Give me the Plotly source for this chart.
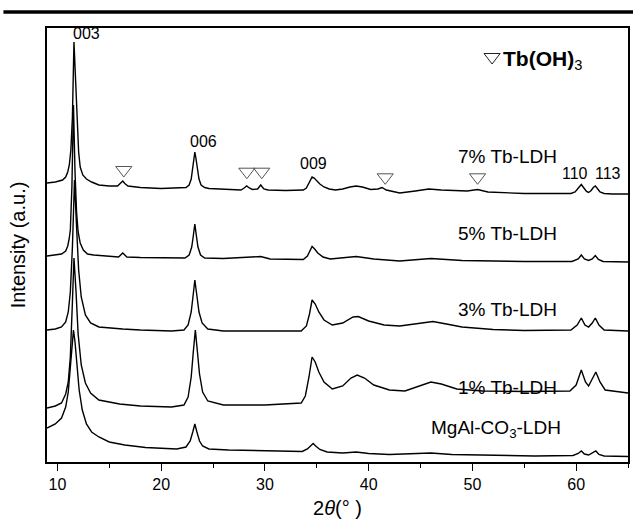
import plotly.graph_objects as go

# ---- data (2theta in degrees, intensity in a.u., already vertically offset) ----
x_7 = [9.0, 9.8, 10.5, 10.8, 11.0, 11.15, 11.3, 11.45, 11.6, 11.75, 11.9, 12.05, 12.2, 12.45, 12.8, 13.3, 14.0,
       15.0, 15.8, 16.1, 16.3, 16.5, 16.8, 18, 20, 22.4, 22.7, 22.9, 23.05, 23.15, 23.25, 23.35, 23.5, 23.65,
       23.85, 24.2, 24.6, 26, 27.7, 28.0, 28.25, 28.5, 28.8, 29.3, 29.6, 29.9, 30.3, 32, 33.7, 34.0, 34.2,
       34.4, 34.55, 34.75, 35.0, 35.3, 35.7, 36.2, 36.8, 37.5, 38.2, 38.8, 39.4, 40.2, 40.9, 41.3, 41.7,
       43.0, 44.5, 45.8, 47.0, 49.5, 50.5, 51.5, 55, 59.5, 59.9, 60.2, 60.5, 60.75, 61.0, 61.2, 61.45, 61.65,
       61.85, 62.05, 62.3, 62.7, 63.5, 65]
y_7 = [279, 280, 282, 285, 290, 297, 312, 345, 420, 385, 342, 310, 295, 287, 283, 280, 277,
       276, 276, 278.5, 281, 278.5, 276, 274.5, 273.5, 274.5, 277, 283, 293, 303, 310, 304, 293, 283,
       277, 274.5, 273.5, 272.5, 272, 274, 276, 274, 272.5, 273, 277, 273, 272, 271.5, 272, 274, 278,
       283.5, 285, 284, 281, 278, 275, 273, 272, 273, 275, 276, 275, 272.5, 273, 274.5, 272,
       269, 271, 273, 272, 271, 272.5, 270, 268.5, 268.5, 270, 273.5, 277.5, 274, 270.5, 269.5, 271.5, 274.5,
       276, 273.5, 270, 268.5, 268, 268]

x_5 = [9.0, 9.8, 10.4, 10.8, 11.0, 11.15, 11.25, 11.4, 11.55, 11.7, 11.85, 12.0, 12.2, 12.5, 12.9, 13.5, 15.0,
       15.9, 16.3, 16.7, 18, 20, 22.3, 22.7, 22.95, 23.1, 23.25, 23.4, 23.55, 23.8, 24.2, 26, 28.2, 29.6,
       30.5, 33.7, 34.1, 34.35, 34.55, 34.8, 35.1, 35.6, 36.3, 38.8, 40.5, 43, 46, 49, 55, 59.6, 60.2,
       60.5, 60.8, 61.2, 61.55, 61.85, 62.15, 62.6, 65]
y_5 = [206, 207, 208, 211, 216, 224, 232, 275, 357, 290, 250, 230, 219, 212, 208, 207, 205.5,
       205, 209, 205, 204.5, 204, 204, 207, 215, 226, 238, 226, 215, 207, 204, 203.5, 205, 205.5,
       203, 202.5, 206, 211, 215.5, 213, 209, 205, 203, 205.5, 203, 201, 203.5, 201.5, 200.5, 200.5, 203,
       207, 203, 201.5, 203, 206.5, 202.5, 200.5, 200]

x_3 = [9.0, 9.8, 10.4, 10.8, 11.05, 11.25, 11.45, 11.65, 11.85, 12.05, 12.3, 12.7, 13.2, 14, 16.3, 18, 21, 22.2,
       22.6, 22.9, 23.1, 23.25, 23.45, 23.65, 23.95, 24.5, 26, 30, 33.5, 34.0, 34.3, 34.55, 34.85, 35.2,
       35.7, 36.5, 37.5, 38.5, 39.0, 40, 41.5, 43, 45, 46.2, 47.5, 49, 52, 55, 59.5, 60.1, 60.5, 60.85,
       61.2, 61.55, 61.85, 62.2, 62.7, 65]
y_3 = [132, 133, 135, 140, 150, 170, 215, 282, 235, 192, 165, 147, 139, 135, 133, 132, 131, 132,
       137, 150, 168, 182, 166, 150, 139, 133, 131, 131, 131, 136, 148, 162, 158, 150,
       142, 137, 139, 145, 145.5, 141, 137, 136, 139, 140.5, 138, 135, 132.5, 131.5, 132, 137, 144, 137,
       135, 139, 144, 137, 132, 131]

x_1 = [9.0, 9.8, 10.4, 10.8, 11.05, 11.25, 11.45, 11.6, 11.8, 12.0, 12.3, 12.7, 13.2, 14, 16, 18, 21, 22.2,
       22.6, 22.9, 23.1, 23.3, 23.5, 23.7, 24.0, 24.5, 26, 30, 33.5, 33.9, 34.25, 34.55, 34.85, 35.2, 35.7,
       36.5, 37.5, 38.3, 38.9, 39.6, 40.5, 42, 43.5, 45, 46, 47, 48.5, 51, 55, 59.4, 60.0, 60.5, 60.9,
       61.2, 61.5, 61.9, 62.3, 62.8, 65]
y_1 = [54, 56, 59, 68, 80, 105, 160, 204, 170, 128, 97, 79, 69, 62, 58, 56, 55, 57,
       65, 85, 110, 132, 110, 88, 70, 61, 57, 57, 59, 66, 85, 105, 100, 90, 80,
       73, 76, 84, 87, 84, 77, 72, 71, 76, 80, 78, 73, 71, 70.5, 71, 77, 92, 80,
       76, 82, 90, 80, 72, 69]

x_m = [9.0, 9.8, 10.4, 10.8, 11.05, 11.25, 11.4, 11.55, 11.7, 11.9, 12.1, 12.4, 12.8, 13.3, 14, 15, 16.5, 18.5,
       20, 21.5, 22.4, 22.8, 23.05, 23.25, 23.45, 23.7, 24.0, 24.6, 26.5, 30, 33.6, 34.1, 34.45, 34.65,
       34.9, 35.3, 36, 37.5, 38.8, 40, 42, 44, 46, 48, 52, 56, 59.7, 60.2, 60.5, 60.8, 61.2, 61.6, 61.9,
       62.2, 62.7, 65]
y_m = [34, 38, 44, 55, 70, 95, 120, 132, 120, 95, 72, 52, 38, 30, 25, 20, 17, 14.5,
       13.5, 13, 15, 21, 30, 38, 30, 21, 16, 13, 12, 11, 10.5, 13, 17, 18.5,
       16, 12.5, 10, 9, 10, 8.5, 7.5, 8, 9, 7.5, 6.5, 6, 6.5, 8.5, 11, 8, 7, 9, 11,
       7.5, 6, 5.5]

series_names = ["7% Tb-LDH", "5% Tb-LDH", "3% Tb-LDH", "1% Tb-LDH", "MgAl-CO<sub>3</sub>-LDH"]
label_x = [53.4, 53.4, 53.4, 53.4, 52.3]
label_y = [306, 229, 153, 75, 33]

peak_labels = ["003", "006", "009", "110", "113"]
peak_lab_x = [12.8, 24.1, 34.65, 59.9, 63.1]
peak_lab_y = [429, 321, 299, 289, 289]

tri_x = [16.4, 28.26, 29.7, 41.6, 50.5]
tri_y = [292, 290.3, 290.3, 284.7, 284.7]

FONT = "Liberation Sans, Arial, sans-serif"

fig = go.Figure()
for xs, ys in [(x_7, y_7), (x_5, y_5), (x_3, y_3), (x_1, y_1), (x_m, y_m)]:
    fig.add_trace(go.Scatter(x=xs, y=ys, mode="lines", line=dict(color="black", width=1.4),
                             showlegend=False, hoverinfo="skip"))

fig.add_trace(go.Scatter(x=tri_x, y=tri_y, mode="markers",
                         marker=dict(symbol="triangle-down-open", size=14, color="#555555",
                                     line=dict(width=1)),
                         showlegend=False, hoverinfo="skip"))
# legend marker
fig.add_trace(go.Scatter(x=[51.9], y=[405], mode="markers",
                         marker=dict(symbol="triangle-down-open", size=14, color="#222222",
                                     line=dict(width=1)),
                         showlegend=False, hoverinfo="skip"))

annotations = []
for t, xx, yy in zip(series_names, label_x, label_y):
    annotations.append(dict(x=xx, y=yy, text=t, showarrow=False, xanchor="center", yanchor="middle",
                            font=dict(family=FONT, size=19, color="black")))
for t, xx, yy in zip(peak_labels, peak_lab_x, peak_lab_y):
    annotations.append(dict(x=xx, y=yy, text=t, showarrow=False, xanchor="center", yanchor="middle",
                            font=dict(family=FONT, size=16, color="black")))
annotations.append(dict(x=52.8, y=402, text="<b>Tb(OH)</b><sub>3</sub>", showarrow=False,
                        xanchor="left", yanchor="middle",
                        font=dict(family=FONT, size=21, color="black")))

fig.update_layout(
    width=633, height=521,
    margin=dict(l=47, r=3, t=28, b=59),
    paper_bgcolor="white", plot_bgcolor="white",
    annotations=annotations,
    shapes=[dict(type="line", xref="paper", yref="paper", x0=-0.075, x1=1.01, y0=1.037, y1=1.037,
                 line=dict(color="black", width=3.5))],
    font=dict(family=FONT, color="black"),
)
fig.update_xaxes(range=[9, 65], showline=True, linecolor="black", linewidth=1.5, mirror=True,
                 ticks="outside", ticklen=7, tickwidth=1.3, tickcolor="black",
                 tickvals=[10, 20, 30, 40, 50, 60],
                 minor=dict(ticks="outside", ticklen=4, tickwidth=1.3, tickcolor="black", dtick=5, tick0=5),
                 showgrid=False, zeroline=False,
                 tickfont=dict(family=FONT, size=16),
                 title=dict(text="2<i>θ</i>(° )", font=dict(family=FONT, size=20), standoff=9))
fig.update_yaxes(range=[0, 434], showline=True, linecolor="black", linewidth=1.5, mirror=True,
                 showticklabels=False, ticks="", showgrid=False, zeroline=False,
                 title=dict(text="Intensity (a.u.)", font=dict(family=FONT, size=20), standoff=14))

fig.write_html("out.html")
